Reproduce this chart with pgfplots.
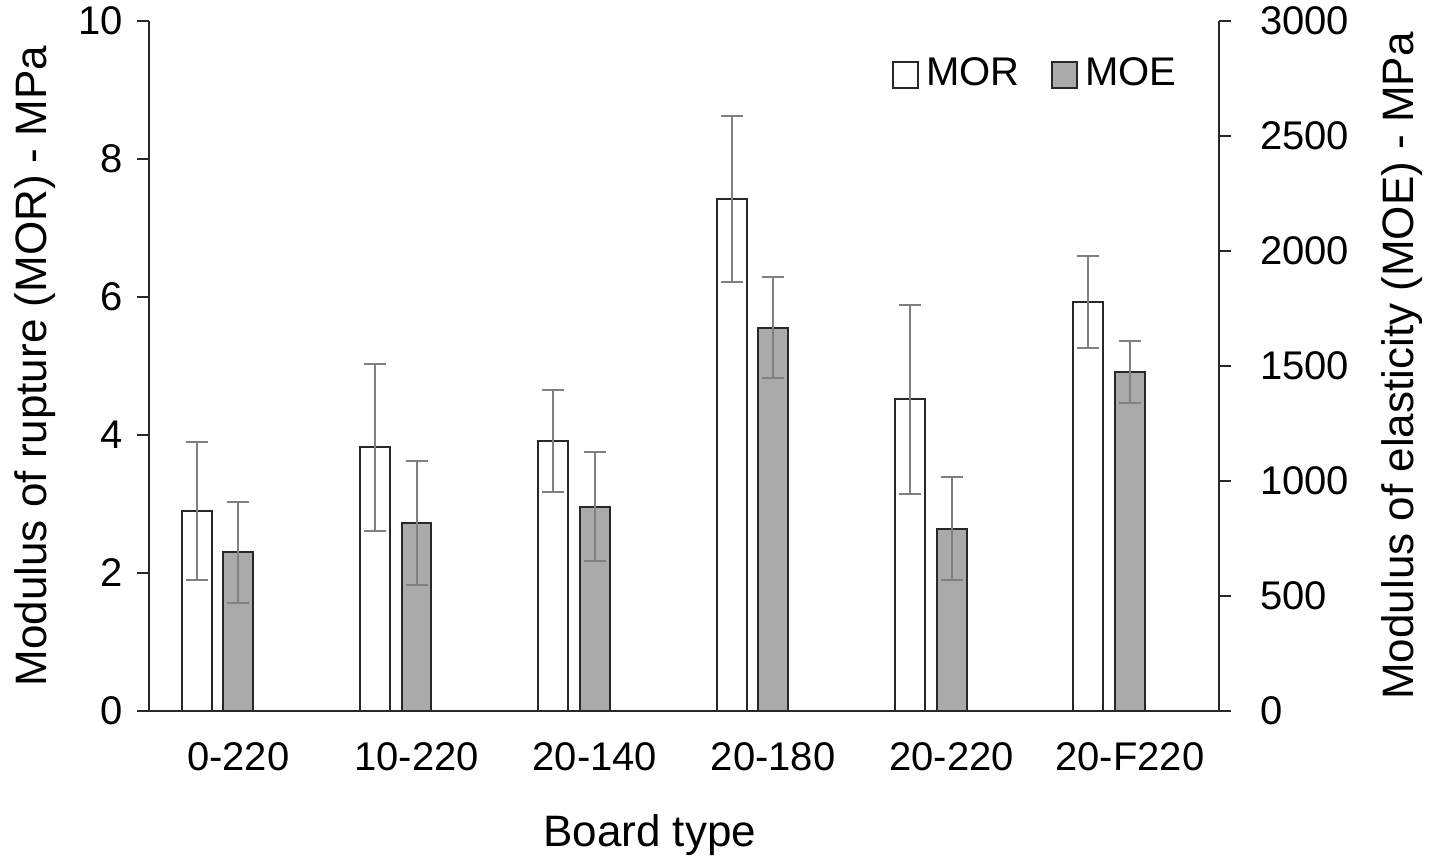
\documentclass[border=0pt]{standalone}
\usepackage{pgfplots}
\pgfplotsset{compat=1.18}
\usepackage{pgfplotstable}
\usepackage{fontspec}
\setmainfont{Liberation Sans}
\usetikzlibrary{calc}
\definecolor{moegray}{RGB}{170,170,170}
\definecolor{errgray}{RGB}{128,128,128}
\definecolor{edge}{RGB}{40,40,40}

\pgfplotstableread{
x mor morerr moe moeerr
0 2.90 1.00 690 220
1 3.82 1.21 818 270
2 3.91 0.74 888 236
3 7.42 1.20 1666 220
4 4.52 1.37 792 224
5 5.93 0.67 1474 135
}\data

\begin{document}
\begin{tikzpicture}
\pgfplotsset{
 common/.style={
  scale only axis, width=267.5pt, height=172.5pt,
  xmin=-0.5, xmax=5.5, ymin=0,
  axis line style={edge, line width=0.5pt},
  major tick length=3pt,
  tick align=outside,
  ybar, bar width=0.168, bar shift=0,
  tick label style={font=\fontsize{10}{12}\selectfont},
  label style={font=\fontsize{11}{13}\selectfont},
  /pgf/number format/assume math mode=true,
  /pgf/number format/1000 sep={},
  error bars/y dir=both, error bars/y explicit,
  error bars/draw error bar/.code 2 args={%
    \draw[errgray, line width=0.5pt] ##1 -- ##2;
    \draw[errgray, line width=0.5pt] ##2 ++(-2.75pt,0pt) -- ++(5.5pt,0pt);},
  clip=false,
 }
}
\begin{axis}[common, name=ax,
  axis x line*=bottom, axis y line*=left,
  ymax=10, ytick={0,2,...,10},
  y tick style={edge, line width=0.5pt},
  xtick={0,...,5}, xticklabels={0-220,10-220,20-140,20-180,20-220,20-F220},
  x tick style={draw=none},
  xticklabel style={yshift=-1.25pt},
  ylabel={Modulus of rupture (MOR) - MPa},
  ylabel style={at={(axis description cs:-0.1065,0.5)}, anchor=center},
  xlabel={Board type},
  xlabel style={at={(axis description cs:0.468,-0.1797)}, anchor=center},
]
\addplot[draw=edge, fill=white, line width=0.5pt] table[x expr=\thisrow{x}-0.233, y=mor, y error=morerr]{\data};
\end{axis}
\begin{axis}[common,
  axis x line=none, axis y line*=right,
  ymax=3000, ytick={0,500,...,3000},
  y tick style={edge, line width=0.5pt},
  yticklabel style={xshift=3.75pt},
  ylabel={Modulus of elasticity (MOE) - MPa},
  ylabel style={at={(axis description cs:1.171,0.5)}, anchor=center},
  legend columns=2,
  legend image code/.code={\draw[#1] (0pt,-3.2pt) rectangle (6.4pt,3.2pt);},
  legend style={at={(axis description cs:1,1)}, anchor=east, xshift=-5.75pt, yshift=-13.5pt,
    draw=none, fill=none, font=\fontsize{10}{12}\selectfont,
    /tikz/every even column/.append style={column sep=6pt},
    nodes={inner sep=1.75pt}},
]
\addlegendimage{draw=edge, fill=white, line width=0.5pt}
\addlegendentry{MOR}
\addplot[draw=edge, fill=moegray, line width=0.5pt] table[x=x, y=moe, y error=moeerr]{\data};
\addlegendentry{MOE}
\end{axis}
\pgfresetboundingbox
\path ($(ax.south west)+(-37.25pt,-38pt)$) rectangle ($(ax.north east)+(52.5pt,5.25pt)$);
\end{tikzpicture}
\end{document}
